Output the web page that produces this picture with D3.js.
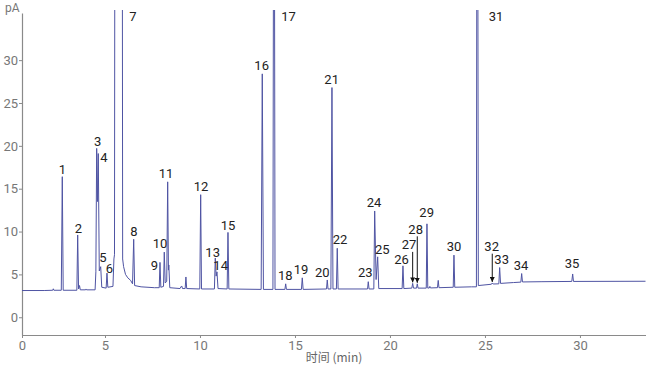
<!DOCTYPE html>
<html><head><meta charset="utf-8">
<script src="https://cdn.jsdelivr.net/npm/d3@7/dist/d3.min.js"></script>
<style>
html,body{margin:0;padding:0;background:#fff;}
svg{display:block;}
</style></head>
<body>
<svg id="chart" width="650" height="365"></svg>
<script>
// ---- data ----
const xTickValues = [0, 5, 10, 15, 20, 25, 30];
const yTickValues = [0, 5, 10, 15, 20, 25, 30];
const xAxisTitle = "时间 (min)";
const yAxisTitle = "pA";

// chromatogram trace: retention time (min) and signal (pA)
const traceTime = [0.632,1.8,2.25,2.28,2.31,2.70,2.753,2.80,3.52,3.563,3.61,3.66,3.70,3.98,4.0,4.03,
  4.48,4.52,4.563,4.605,4.647,4.70,4.774,4.83,5.06,5.105,5.15,5.42,5.47,5.50,5.525,5.905,5.93,5.98,
  6.08,6.2,6.35,6.45,6.511,6.56,6.9,7.6,7.855,7.895,7.94,8.08,8.121,8.17,8.25,8.30,8.34,8.36,8.41,
  8.95,9.0,9.04,9.08,9.22,9.26,9.30,9.99,10.037,10.08,10.76,10.805,10.85,10.895,10.95,11.43,11.474,11.52,
  13.22,13.279,13.34,13.84,13.88,13.91,13.95,14.47,14.511,14.55,15.34,15.384,15.43,16.66,16.70,16.74,
  16.89,16.947,17.0,17.18,17.226,17.27,18.82,18.858,18.90,19.15,19.195,19.27,19.353,19.41,20.64,20.684,20.73,
  21.15,21.195,21.24,21.40,21.437,21.48,21.91,21.947,21.99,22.07,22.10,22.13,22.50,22.54,22.58,23.33,23.368,23.41,
  24.3,24.55,24.58,24.615,24.65,25.34,25.384,25.43,25.73,25.774,25.82,26.5,26.89,26.932,26.975,28.0,29.57,29.616,29.66,33.45];
const traceSignal = [3.12,3.12,3.15,3.32,3.15,3.15,16.4,3.15,3.15,9.6,3.3,3.7,3.2,3.2,3.3,3.2,
  3.2,5.3,19.7,13.5,19.1,5.4,5.9,3.5,3.4,5.15,3.5,3.6,6.8,7.3,60,60,6.8,5.9,
  5.0,4.6,4.3,3.9,9.1,3.7,3.55,3.45,3.45,6.4,3.5,3.6,7.6,4.0,4.2,15.8,5.5,6.1,3.45,
  3.35,3.55,3.65,3.35,3.35,4.7,3.35,3.3,14.3,3.3,3.3,6.9,4.8,5.3,3.35,3.3,9.9,3.3,
  3.25,28.4,3.25,3.25,60,60,3.25,3.25,3.9,3.25,3.25,4.6,3.25,3.3,4.35,3.3,
  3.3,26.8,3.3,3.3,8.05,3.3,3.3,4.15,3.3,3.3,12.4,4.4,7.05,3.35,3.35,6.0,3.35,
  3.4,3.95,3.4,3.4,3.9,3.4,3.4,10.9,3.4,3.42,3.6,3.42,3.45,4.3,3.45,3.5,7.25,3.5,
  3.55,3.55,60,60,3.7,3.85,4.0,3.88,3.9,5.8,3.95,4.05,4.1,5.1,4.12,4.15,4.18,5.05,4.18,4.2];

// labelled peaks
const peakLabels = ["1","2","3","4","5","6","7","8","9","10","11","12","13","14","15","16","17","18",
  "19","20","21","22","23","24","25","26","27","28","29","30","31","32","33","34","35"];
const peakTimes = [2.753,3.563,4.563,4.647,4.774,5.105,5.905,6.511,7.895,8.121,8.30,10.037,10.805,10.895,11.474,
  13.279,13.91,14.511,15.384,16.70,16.947,17.226,18.858,19.195,19.353,20.684,21.195,21.437,21.947,23.368,24.615,
  25.384,25.774,26.932,29.616];
const peakHeights = [16.4,9.6,19.7,19.1,5.9,5.15,60,9.1,6.4,7.6,15.8,14.3,6.9,5.3,9.9,28.4,60,3.9,4.6,4.35,
  26.8,8.05,4.15,12.4,7.05,6.0,3.95,3.9,10.9,7.25,60,4.0,5.8,5.1,5.05];
const arrowPeaks = ["27","28","32"];

// ---- layout / style (not data) ----
const plot = {left: 22, right: 645.5, top: 13, bottom: 335};
const xStart = 0.632, xEnd = 33.45;
const labelOffset = { // label centre offset from apex, px
  "1":[0,-7.7],"2":[0.6,-6.7],"3":[1,-7.3],"4":[5.7,4],"5":[2.3,-9.4],"6":[2.3,-4.7],
  "8":[0.3,-8.3],"9":[-5.7,3],"10":[-4.3,-9],"11":[-1.7,-8.4],"12":[0.3,-8.3],"13":[-2.6,-5.6],
  "14":[3.7,-6],"15":[0,-6.6],"16":[-0.6,-8.3],"18":[-0.4,-8],"19":[-1.3,-8.4],"20":[-5,-8],
  "21":[-0.3,-8],"22":[2.7,-9],"23":[-3,-9],"24":[-0.7,-8.4],"25":[4.6,-7.4],"26":[-1.5,-6.5],
  "27":[-3.7,-38.5],"28":[-1.6,-54.5],"29":[-0.3,-11.7],"30":[0,-8.3],"32":[-0.6,-36.3],
  "33":[2,-8.4],"34":[-0.7,-8.3],"35":[-0.7,-10.7]
};
const topLabelDx = {"7":7, "17":7, "31":11};

const svg = d3.select("#chart");
const x = d3.scaleLinear().domain([xStart, xEnd]).range([plot.left, plot.right]);
const y = d3.scaleLinear().domain([-2.07, 35.5]).range([plot.bottom, plot.top]);

// axes
const axisColor = "#8a8a8a", tickText = "#777";
const xAxis = d3.axisBottom(x)
  .tickValues(xTickValues.map(v => v === 0 ? xStart : v))
  .tickFormat((d, i) => String(xTickValues[i]))
  .tickSize(3).tickSizeOuter(0).tickPadding(3);
const gx = svg.append("g").attr("transform", `translate(0,${plot.bottom})`).call(xAxis);
const yAxis = d3.axisLeft(y).tickValues(yTickValues).tickSize(3).tickSizeOuter(0).tickPadding(1);
const gy = svg.append("g").attr("transform", `translate(${plot.left},0)`).call(yAxis);
[gx, gy].forEach(g => {
  g.select(".domain").attr("stroke", axisColor).attr("stroke-width", 1.2);
  g.selectAll(".tick line").attr("stroke", axisColor);
  g.selectAll(".tick text").attr("fill", tickText)
    .style("font-family", "Roboto, 'Noto Sans', sans-serif").style("font-size", "13px");
});

svg.append("text").attr("x", 5).attr("y", 12).text(yAxisTitle)
  .attr("fill", "#777").style("font-family", "Roboto, sans-serif").style("font-size", "12px");
svg.append("text").attr("x", 334).attr("y", 362).attr("text-anchor", "middle")
  .text(xAxisTitle).attr("fill", "#666")
  .style("font-family", "'Noto Sans CJK SC', sans-serif").style("font-size", "12px");

// clip
svg.append("clipPath").attr("id", "clip").append("rect")
  .attr("x", plot.left).attr("y", 10).attr("width", plot.right - plot.left + 2).attr("height", plot.bottom - 10);

const trace = traceTime.map((t, i) => [t, traceSignal[i]]);
const line = d3.line().x(d => x(d[0])).y(d => y(d[1]));
svg.append("path").datum(trace).attr("clip-path", "url(#clip)")
  .attr("d", line).attr("fill", "none").attr("stroke", "#4f54a3").attr("stroke-width", 1)
  .attr("stroke-linejoin", "round");

// arrow marker
const defs = svg.append("defs");
defs.append("marker").attr("id", "arrow").attr("viewBox", "0 0 10 10")
  .attr("refX", 10).attr("refY", 5).attr("markerWidth", 5).attr("markerHeight", 5)
  .attr("orient", "auto").attr("markerUnits", "userSpaceOnUse")
  .append("path").attr("d", "M0,0L10,5L0,10z").attr("fill", "#111");

// labels
const lg = svg.append("g").style("font-family", "Roboto, 'Noto Sans', sans-serif")
  .style("font-size", "13px").attr("fill", "#222");
peakLabels.forEach((lab, i) => {
  const px = x(peakTimes[i]);
  if (topLabelDx[lab] !== undefined) {
    lg.append("text").attr("x", px + topLabelDx[lab]).attr("y", plot.top + 3)
      .attr("dy", "0.35em").attr("text-anchor", "start").text(lab);
    return;
  }
  const py = y(peakHeights[i]);
  const off = labelOffset[lab] || [0, -8];
  lg.append("text").attr("x", px + off[0]).attr("y", py + off[1])
    .attr("dy", "0.35em").attr("text-anchor", "middle").text(lab);
  if (arrowPeaks.includes(lab)) {
    svg.append("line").attr("x1", px).attr("x2", px)
      .attr("y1", py + off[1] + 7).attr("y2", py - 1)
      .attr("stroke", "#111").attr("stroke-width", 1).attr("marker-end", "url(#arrow)");
  }
});
</script>
</body></html>
